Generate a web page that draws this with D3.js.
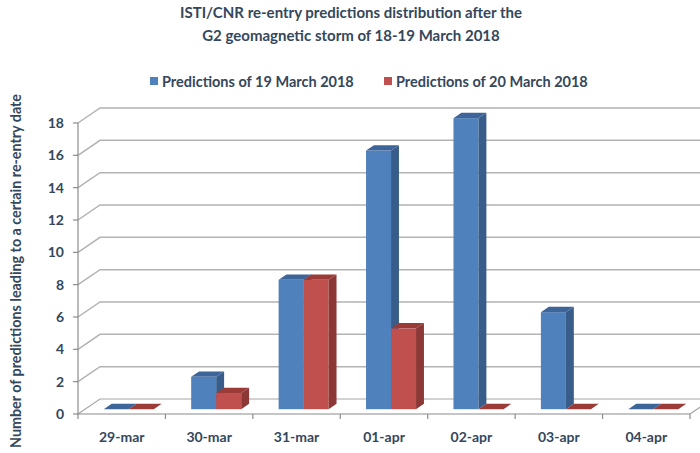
<!DOCTYPE html>
<html>
<head>
<meta charset="utf-8">
<script src="https://cdn.jsdelivr.net/npm/d3@7"></script>
<style>
  body { margin: 0; background: #fff; }
  text { font-family: Lato, "Open Sans", sans-serif; font-weight: bold; fill: #34475c; }
</style>
</head>
<body>
<div id="chart"></div>
<script>
// DATA ////////////////////////////////////////////////////////////////////////
const categories = ["29-mar", "30-mar", "31-mar", "01-apr", "02-apr", "03-apr", "04-apr"];
const seriesNames = ["Predictions of 19 March 2018", "Predictions of 20 March 2018"];
const pred19 = [0, 2, 8, 16, 18, 6, 0];
const pred20 = [0, 1, 8, 5, 0, 0, 0];
const yTicks = [0, 2, 4, 6, 8, 10, 12, 14, 16, 18];

// colours: front, top, side
const palette = [
  { front: "#4f81bd", top: "#3d6599", side: "#385d8a" },
  { front: "#c0504d", top: "#9b3b38", side: "#8c3836" }
];

const W = 700, H = 453;
const svg = d3.select("#chart").append("svg").attr("width", W).attr("height", H);

// 3d depth of floor and bars
const depth = { dx: 22, dy: -15 };
const barFront = 0.32, barBack = 0.68;

const x = d3.scaleBand().domain(categories).range([78, 690]);
const xs = d3.scaleBand().domain(seriesNames).range([0, 50]);
const y = d3.scaleLinear().domain([0, 18]).range([414, 123]);
const groupOff = (x.bandwidth() - 50) / 2;

// title
svg.append("text").attr("x", 351).attr("y", 18).attr("text-anchor", "middle")
  .style("font-size", "15px").text("ISTI/CNR re-entry predictions distribution after the");
svg.append("text").attr("x", 351).attr("y", 41).attr("text-anchor", "middle")
  .style("font-size", "15px").text("G2 geomagnetic storm of 18-19 March 2018");

// legend
const legendX = [150, 384];
seriesNames.forEach((s, i) => {
  svg.append("rect").attr("x", legendX[i]).attr("y", 77).attr("width", 8).attr("height", 8)
    .attr("fill", palette[i].front);
  svg.append("text").attr("x", legendX[i] + 12).attr("y", 87)
    .style("font-size", "14.5px").text(s);
});

// walls: gridlines on back + side
const grid = svg.append("g").attr("stroke", "#b3b3b3").attr("stroke-width", 1.5).attr("fill", "none");
yTicks.forEach(t => {
  if (t === 0) return;
  grid.append("path").attr("d", d3.line()([
    [x.range()[0], y(t)],
    [x.range()[0] + depth.dx, y(t) + depth.dy],
    [W + 20, y(t) + depth.dy]
  ]));
});

// floor
const floor = svg.append("g").attr("stroke", "#a6a6a6").attr("stroke-width", 1.2).attr("fill", "none");
floor.append("path").attr("d", d3.line()([
  [x.range()[0], y(0)],
  [x.range()[0] + depth.dx, y(0) + depth.dy],
  [W + 20, y(0) + depth.dy]
]));
floor.append("path").attr("d", d3.line()([
  [x.range()[1], y(0)],
  [x.range()[1] + depth.dx, y(0) + depth.dy]
]));

// axes
const axis = svg.append("g").attr("stroke", "#8c8c8c").attr("stroke-width", 1.2);
axis.append("line").attr("x1", 78).attr("x2", 78).attr("y1", y(0)).attr("y2", y(18));
yTicks.forEach(t => {
  axis.append("line").attr("x1", 73).attr("x2", 78).attr("y1", y(t)).attr("y2", y(t));
});
axis.append("line").attr("x1", x.range()[0]).attr("x2", x.range()[1]).attr("y1", y(0)).attr("y2", y(0));
d3.range(categories.length + 1).forEach(i => {
  const xx = x.range()[0] + i * x.step();
  axis.append("line").attr("x1", xx).attr("x2", xx).attr("y1", y(0)).attr("y2", y(0) + 5);
});

svg.selectAll(".ytick").data(yTicks).enter().append("text")
  .attr("x", 64).attr("y", d => y(d) + 5).attr("text-anchor", "end")
  .style("font-size", "14px").text(d => d);

svg.selectAll(".xtick").data(categories).enter().append("text")
  .attr("x", d => x(d) + x.bandwidth() / 2).attr("y", 442).attr("text-anchor", "middle")
  .style("font-size", "14px").text(d => d);

svg.append("text")
  .attr("transform", "translate(21," + 271 + ") rotate(-90)")
  .attr("text-anchor", "middle").style("font-size", "14.3px")
  .text("Number of predictions leading to a certain re-entry date");

// bars
const fdx = depth.dx * barFront, fdy = depth.dy * barFront;
const bdx = depth.dx * (barBack - barFront), bdy = depth.dy * (barBack - barFront);
const bars = svg.append("g");
categories.forEach((c, ci) => {
  [pred19, pred20].forEach((vals, si) => {
    const v = vals[ci];
    const x0 = x(c) + groupOff + xs(seriesNames[si]) + fdx;
    const x1 = x0 + xs.bandwidth();
    const yb = y(0) + fdy, yt = y(v) + fdy;
    const col = palette[si];
    const g = bars.append("g");
    if (v > 0) {
      g.append("rect").attr("x", x0).attr("y", yt).attr("width", x1 - x0).attr("height", yb - yt)
        .attr("fill", col.front);
      g.append("path").attr("fill", col.side).attr("d", d3.line()([
        [x1, yt], [x1 + bdx, yt + bdy], [x1 + bdx, yb + bdy], [x1, yb]
      ]) + "Z");
    }
    g.append("path").attr("fill", col.top).attr("d", d3.line()([
      [x0, yt], [x0 + bdx, yt + bdy], [x1 + bdx, yt + bdy], [x1, yt]
    ]) + "Z");
  });
});
</script>
</body>
</html>
